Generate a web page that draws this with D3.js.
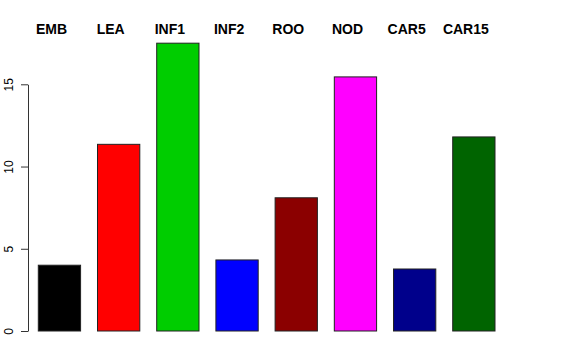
<!DOCTYPE html>
<head>
<style type="text/css">
	body { margin: 0; background: #fff; }
	text { font-family: "Liberation Sans", Arial, sans-serif; }
</style>
</head>
<script src="https://d3js.org/d3.v7.min.js"></script>
<body>
	<svg width="576" height="360"></svg>
	<script>
	var categories = ["EMB", "LEA", "INF1", "INF2", "ROO", "NOD", "CAR5", "CAR15"];
	var values = [4.0, 11.35, 17.5, 4.32, 8.1, 15.45, 3.77, 11.8];
	var colors = ["#000000", "#FF0000", "#00CD00", "#0000FF", "#8B0000", "#FF00FF", "#00008B", "#006400"];
	var yTicks = [0, 5, 10, 15];

	var svg = d3.select("svg");

	var x = d3.scaleBand()
		.domain(categories)
		.range([38.3, 495])
		.paddingInner(0.2857)
		.paddingOuter(0);

	var y = d3.scaleLinear()
		.domain([0, 15])
		.range([331, 84.3]);

	// bars
	svg.append("g")
		.selectAll("rect")
		.data(categories)
		.enter().append("rect")
		.attr("x", function(d) { return x(d); })
		.attr("width", x.bandwidth())
		.attr("y", function(d, i) { return y(values[i]); })
		.attr("height", function(d, i) { return y(0) - y(values[i]); })
		.attr("fill", function(d, i) { return colors[i]; })
		.attr("stroke", "#222")
		.attr("stroke-width", 1);

	// labels on top
	svg.append("g")
		.selectAll("text")
		.data(categories)
		.enter().append("text")
		.attr("x", function(d) { return x(d) + x.bandwidth() / 2 - 8; })
		.attr("y", 34)
		.attr("text-anchor", "middle")
		.attr("font-weight", "bold")
		.attr("font-size", 14)
		.attr("fill", "#000")
		.text(function(d) { return d; });

	// y axis, R style
	var ax = svg.append("g")
		.attr("transform", "translate(28,0)")
		.call(d3.axisLeft(y).tickValues(yTicks).tickSize(7).tickSizeOuter(0).tickFormat(d3.format("d")));
	ax.select(".domain").attr("stroke", "#333");
	ax.selectAll(".tick line").attr("stroke", "#333");
	ax.selectAll(".tick text")
		.attr("font-family", "Liberation Sans, Arial, sans-serif")
		.attr("font-size", 12)
		.attr("fill", "#000")
		.attr("text-anchor", "middle")
		.attr("transform", "rotate(-90)")
		.attr("x", 0)
		.attr("y", -15)
		.attr("dy", 0);
	// rotated text needs the tick offset moved into rotate frame
	ax.selectAll(".tick").each(function(d) {
		d3.select(this).select("text")
			.attr("transform", "translate(-15,0) rotate(-90)")
			.attr("x", 0).attr("y", 0);
	});
	</script>
</body>
